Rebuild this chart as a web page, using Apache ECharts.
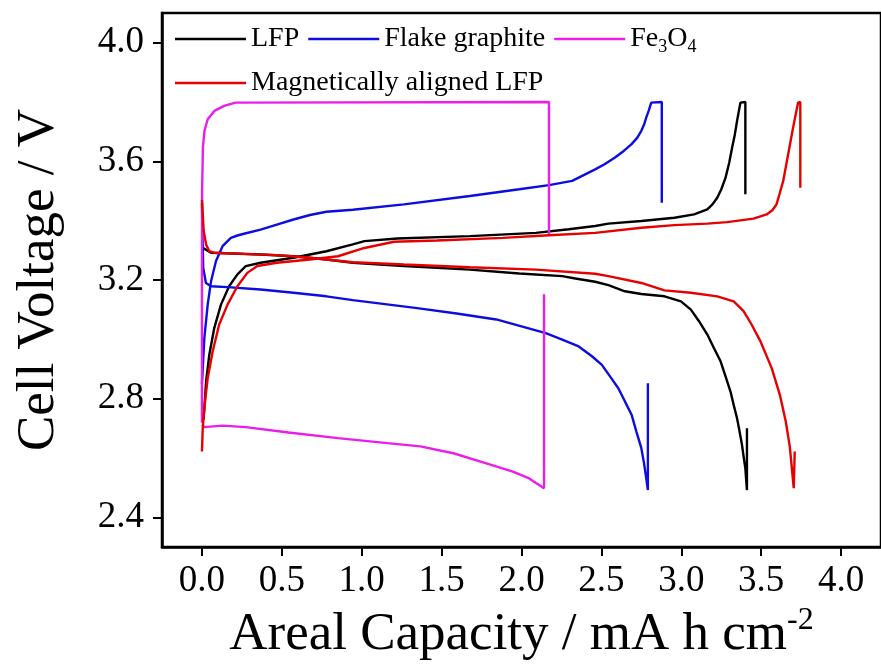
<!DOCTYPE html>
<html>
<head>
<meta charset="utf-8">
<script src="https://cdn.jsdelivr.net/npm/echarts@6/dist/echarts.min.js"></script>
<style>
  html, body { margin: 0; padding: 0; background: #fff; }
  #main { width: 881px; height: 668px; }
</style>
</head>
<body>
<div id="main"></div>
<script>
// tick positions
const xTicks = [0, 0.5, 1.0, 1.5, 2.0, 2.5, 3.0, 3.5, 4.0];
const yTicks = [2.4, 2.8, 3.2, 3.6, 4.0];

// [capacity, voltage]
const lfpCharge = [[0,2.72],[0.011,2.734],[0.026,2.858],[0.046,2.948],[0.077,3.038],[0.119,3.117],[0.170,3.179],[0.222,3.219],[0.274,3.247],[0.367,3.258],[0.573,3.275],[0.779,3.297],[0.944,3.320],[1.017,3.331],[1.223,3.340],[1.677,3.348],[2.090,3.359],[2.296,3.371],[2.461,3.382],[2.544,3.390],[2.750,3.399],[2.957,3.410],[3.080,3.421],[3.163,3.438],[3.195,3.455],[3.225,3.477],[3.250,3.505],[3.277,3.545],[3.300,3.595],[3.318,3.646],[3.335,3.690],[3.349,3.736],[3.370,3.798],[3.401,3.800],[3.401,3.489]];
const lfpDischarge = [[0,3.31],[0.057,3.292],[0.367,3.286],[0.573,3.280],[0.779,3.269],[0.944,3.258],[1.264,3.247],[1.677,3.235],[1.986,3.222],[2.255,3.213],[2.337,3.205],[2.461,3.194],[2.544,3.183],[2.647,3.162],[2.750,3.153],[2.895,3.145],[2.998,3.128],[3.060,3.100],[3.111,3.061],[3.163,3.016],[3.204,2.971],[3.246,2.926],[3.277,2.875],[3.308,2.824],[3.328,2.779],[3.349,2.734],[3.365,2.689],[3.380,2.644],[3.390,2.605],[3.401,2.565],[3.411,2.492],[3.411,2.700]];

const graphiteCharge = [[0,2.85],[0.015,3.004],[0.036,3.117],[0.057,3.196],[0.088,3.264],[0.129,3.314],[0.181,3.342],[0.222,3.350],[0.263,3.356],[0.367,3.370],[0.469,3.387],[0.573,3.404],[0.676,3.419],[0.779,3.430],[0.944,3.437],[1.264,3.455],[1.677,3.483],[1.986,3.506],[2.172,3.520],[2.317,3.534],[2.461,3.573],[2.520,3.590],[2.585,3.613],[2.640,3.635],[2.689,3.658],[2.725,3.680],[2.750,3.703],[2.768,3.725],[2.781,3.748],[2.797,3.772],[2.812,3.798],[2.878,3.800],[2.878,3.460]];
const graphiteDischarge = [[0,3.46],[0.003,3.354],[0.008,3.241],[0.025,3.190],[0.057,3.179],[0.160,3.176],[0.367,3.168],[0.573,3.157],[0.779,3.145],[0.944,3.132],[1.347,3.105],[1.594,3.087],[1.842,3.067],[2.152,3.021],[2.255,2.999],[2.358,2.976],[2.441,2.943],[2.503,2.914],[2.554,2.875],[2.606,2.835],[2.647,2.791],[2.689,2.746],[2.719,2.689],[2.750,2.633],[2.767,2.582],[2.781,2.531],[2.791,2.492],[2.791,2.852]];

const fe3o4Charge = [[0,2.72],[0,3.2],[0.001,3.5],[0.006,3.646],[0.016,3.703],[0.036,3.742],[0.078,3.770],[0.139,3.787],[0.21,3.798],[2.172,3.800],[2.172,3.354]];
const fe3o4Discharge = [[0,2.712],[0.015,2.704],[0.129,2.709],[0.274,2.704],[0.542,2.686],[0.851,2.667],[1.161,2.650],[1.367,2.639],[1.574,2.616],[1.780,2.582],[1.946,2.554],[2.048,2.531],[2.141,2.498],[2.141,3.152]];

const alignedCharge = [[0,2.622],[0.005,2.700],[0.015,2.768],[0.036,2.869],[0.067,2.959],[0.108,3.050],[0.160,3.117],[0.222,3.179],[0.284,3.224],[0.346,3.247],[0.469,3.258],[0.676,3.269],[0.851,3.280],[1.017,3.308],[1.202,3.329],[1.471,3.333],[1.884,3.342],[2.172,3.351],[2.461,3.359],[2.750,3.376],[2.957,3.385],[3.163,3.390],[3.287,3.395],[3.452,3.407],[3.534,3.421],[3.570,3.435],[3.596,3.455],[3.615,3.490],[3.638,3.534],[3.669,3.624],[3.700,3.714],[3.731,3.798],[3.745,3.800],[3.745,3.511]];
const alignedDischarge = [[0,3.47],[0.005,3.466],[0.011,3.365],[0.026,3.320],[0.046,3.297],[0.077,3.292],[0.263,3.288],[0.469,3.284],[0.676,3.275],[0.944,3.260],[1.264,3.252],[1.677,3.243],[2.090,3.235],[2.461,3.221],[2.544,3.213],[2.750,3.190],[2.895,3.165],[3.060,3.157],[3.225,3.145],[3.328,3.128],[3.390,3.095],[3.440,3.050],[3.494,2.995],[3.566,2.903],[3.617,2.813],[3.654,2.723],[3.679,2.639],[3.704,2.498],[3.710,2.622]];

const serif = "'Liberation Serif', 'DejaVu Serif', serif";

const chart = echarts.init(document.getElementById('main'));

const curve = (name, color, data) => ({
  name: name,
  type: 'line',
  data: data,
  symbol: 'none',
  lineStyle: { color: color, width: 2.4 },
  itemStyle: { color: color },
  z: 3
});

const legendBase = {
  left: 170,
  icon: 'rect',
  itemWidth: 71,
  itemHeight: 2.5,
  itemGap: 9,
  formatter: function (name) {
    return name === 'Fe3O4' ? '{n|Fe}{s|3}{n|O}{s|4}' : name;
  },
  textStyle: {
    fontFamily: serif,
    fontSize: 28,
    color: '#000',
    rich: {
      n: { fontFamily: serif, fontSize: 28, lineHeight: 34, color: '#000' },
      s: { fontFamily: serif, fontSize: 18, lineHeight: 18, verticalAlign: 'bottom', color: '#000' }
    }
  }
};

const option = {
  animation: false,
  backgroundColor: '#fff',
  grid: {
    left: 162,
    top: 13,
    right: -8,
    bottom: 121,
    show: true,
    borderColor: '#000',
    borderWidth: 2.5
  },
  legend: [
    Object.assign({}, legendBase, { top: 20, data: ['LFP', 'Flake graphite', 'Fe3O4'] }),
    Object.assign({}, legendBase, { top: 64, data: ['Magnetically aligned LFP'] })
  ],
  xAxis: {
    type: 'value',
    min: -0.25,
    max: 4.25,
    name: '{a|Areal Capacity / mA h cm}{sup|-2}',
    nameLocation: 'middle',
    nameGap: 58,
    nameTextStyle: {
      rich: {
        a: { fontFamily: serif, fontSize: 53, lineHeight: 60, color: '#000' },
        sup: { fontFamily: serif, fontSize: 32, lineHeight: 32, verticalAlign: 'top', color: '#000' }
      }
    },
    axisLine: { onZero: false, lineStyle: { color: '#000', width: 2.5 } },
    axisTick: { customValues: xTicks, length: 9, lineStyle: { color: '#000', width: 2 } },
    axisLabel: {
      customValues: xTicks,
      margin: 16,
      fontFamily: serif,
      fontSize: 37,
      color: '#000',
      formatter: v => v.toFixed(1)
    },
    splitLine: { show: false }
  },
  yAxis: {
    type: 'value',
    min: 2.3,
    max: 4.1,
    name: 'Cell Voltage / V',
    nameLocation: 'middle',
    nameGap: 96,
    nameTextStyle: { fontFamily: serif, fontSize: 53, color: '#000' },
    axisLine: { onZero: false, lineStyle: { color: '#000', width: 2.5 } },
    axisTick: { customValues: yTicks, length: 9, lineStyle: { color: '#000', width: 2 } },
    axisLabel: {
      customValues: yTicks,
      margin: 18,
      fontFamily: serif,
      fontSize: 37,
      color: '#000',
      formatter: v => v.toFixed(1)
    },
    splitLine: { show: false }
  },
  series: [
    curve('LFP', '#000000', lfpCharge),
    curve('LFP', '#000000', lfpDischarge),
    curve('Flake graphite', '#0d0de0', graphiteCharge),
    curve('Flake graphite', '#0d0de0', graphiteDischarge),
    curve('Fe3O4', '#ea1eea', fe3o4Charge),
    curve('Fe3O4', '#ea1eea', fe3o4Discharge),
    curve('Magnetically aligned LFP', '#e60000', alignedCharge),
    curve('Magnetically aligned LFP', '#e60000', alignedDischarge)
  ]
};

chart.setOption(option);
</script>
</body>
</html>
